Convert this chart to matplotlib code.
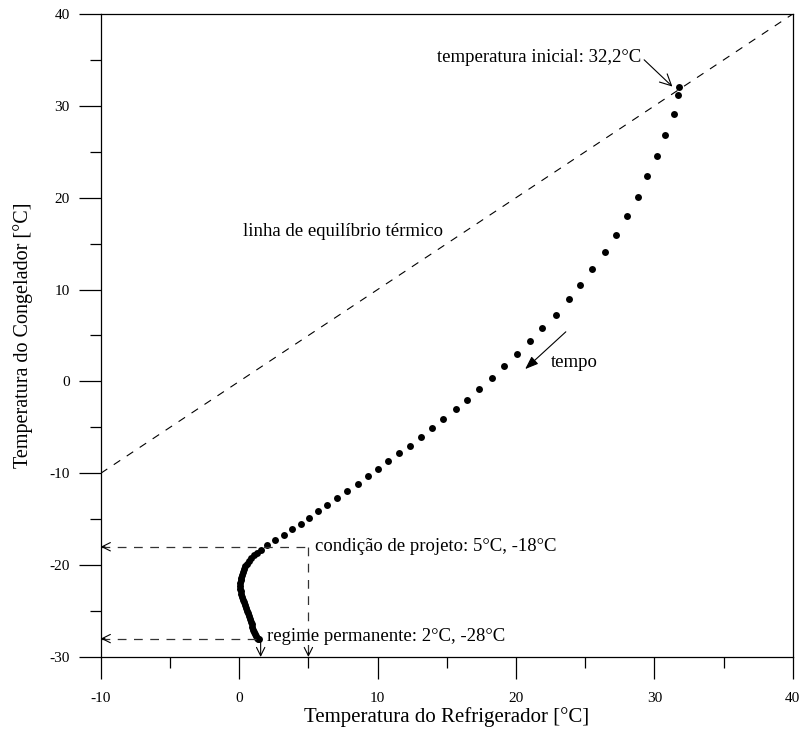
import matplotlib

matplotlib.use("Agg")
import matplotlib.pyplot as plt
import numpy as np

plt.rcParams["font.family"] = ["Liberation Serif", "DejaVu Serif"]
plt.rcParams["axes.unicode_minus"] = False

refrig_temp = [
    31.8, 31.7, 31.4, 30.8, 30.2, 29.5, 28.8, 28.0, 27.2, 26.4,
    25.5, 24.65, 23.8, 22.9, 21.9, 21.0, 20.06, 19.16, 18.28, 17.34,
    16.47, 15.63, 14.76, 13.95, 13.12, 12.34, 11.53, 10.76, 10.0, 9.28,
    8.56, 7.81, 7.09, 6.37, 5.72, 5.05, 4.44, 3.81, 3.22, 2.62,
    2.04, 1.54, 1.30, 1.08, 0.88, 0.70, 0.55, 0.42, 0.32, 0.24,
    0.18, 0.13, 0.10, 0.08, 0.08, 0.09, 0.12, 0.16, 0.21, 0.27,
    0.33, 0.40, 0.47, 0.54, 0.61, 0.68, 0.75, 0.82, 0.89, 0.96,
    1.03, 1.10, 1.17, 1.24, 1.30, 1.36, 1.42,
]
freezer_temp = [
    32.0, 31.15, 29.16, 26.83, 24.55, 22.31, 20.09, 17.99, 15.95, 14.07,
    12.19, 10.51, 8.92, 7.25, 5.83, 4.35, 2.97, 1.66, 0.36, -0.84,
    -1.98, -3.05, -4.07, -5.08, -6.09, -7.01, -7.83, -8.68, -9.54, -10.30,
    -11.12, -11.92, -12.72, -13.43, -14.15, -14.85, -15.47, -16.10, -16.72, -17.27,
    -17.85, -18.36, -18.65, -18.95, -19.25, -19.55, -19.85, -20.15, -20.45, -20.75,
    -21.05, -21.35, -21.65, -21.95, -22.25, -22.55, -22.85, -23.15, -23.45, -23.75,
    -24.05, -24.35, -24.65, -24.95, -25.25, -25.55, -25.85, -26.15, -26.45, -26.75,
    -27.05, -27.30, -27.55, -27.75, -27.90, -28.0, -28.05,
]

equilibrium_x = [-10, 40]
design_point = (5, -18)
steady_point = (1.5, -28)
axis_min = (-10, -30)

fig = plt.figure(figsize=(8.0, 7.29), dpi=100)
ax = fig.add_axes([0.126, 0.0988, 0.865, 0.8820])

ax.plot(equilibrium_x, equilibrium_x, color="black", linewidth=0.8, dashes=(7, 7))
ax.plot(refrig_temp, freezer_temp, "o", color="black", markersize=5.0, markeredgewidth=0)

dash_kw = dict(color="#333333", linewidth=0.9, dashes=(7, 6))
head_kw = dict(arrowstyle="->,head_length=0.6,head_width=0.3", color="black",
               linewidth=0.8, shrinkA=0, shrinkB=0)

# design condition guides
ax.plot([axis_min[0], design_point[0]], [design_point[1], design_point[1]], **dash_kw)
ax.plot([design_point[0], design_point[0]], [design_point[1], axis_min[1]], **dash_kw)
ax.annotate("", xy=(axis_min[0], design_point[1]), xytext=(axis_min[0] + 0.3, design_point[1]),
            arrowprops=head_kw)
ax.annotate("", xy=(design_point[0], axis_min[1]), xytext=(design_point[0], axis_min[1] + 0.5),
            arrowprops=head_kw)

# steady state guides
ax.plot([axis_min[0], steady_point[0]], [steady_point[1], steady_point[1]], **dash_kw)
ax.annotate("", xy=(axis_min[0], steady_point[1]), xytext=(axis_min[0] + 0.3, steady_point[1]),
            arrowprops=head_kw)
ax.annotate("", xy=(steady_point[0] + 0.05, axis_min[1]), xytext=(steady_point[0] + 0.05, steady_point[1] - 0.3),
            arrowprops=head_kw)

ax.annotate("temperatura inicial: 32,2°C", xy=(31.3, 32.1), xytext=(14.3, 35.3),
            fontsize=13.5, va="center", ha="left",
            arrowprops=dict(arrowstyle="->,head_length=0.6,head_width=0.3", color="black",
                            linewidth=0.8, shrinkA=0, shrinkB=0, relpos=(1.0, 0.5)))
ax.text(0.24, 16.3, "linha de equilíbrio térmico", fontsize=13.5, va="center", ha="left")
ax.annotate("", xy=(20.66, 1.34), xytext=(23.6, 5.4),
            arrowprops=dict(arrowstyle="-|>,head_length=0.8,head_width=0.3", color="black",
                            linewidth=0.8, shrinkA=0, shrinkB=0))
ax.text(22.5, 2.1, "tempo", fontsize=13.5, va="center", ha="left")
ax.text(5.5, -18.0, "condição de projeto: 5°C, -18°C", fontsize=13.5, va="center", ha="left")
ax.text(1.98, -27.75, "regime permanente: 2°C, -28°C", fontsize=13.5, va="center", ha="left")

ax.set_xlim(-10, 40)
ax.set_ylim(-30, 40)
ax.set_xticks(np.arange(-10, 41, 10))
ax.set_yticks(np.arange(-30, 41, 10))
ax.set_xticks(np.arange(-5, 40, 10), minor=True)
ax.set_yticks(np.arange(-25, 40, 10), minor=True)
ax.tick_params(which="major", direction="out", length=15.5, width=0.9, labelsize=11)
ax.tick_params(axis="x", which="major", pad=10)
ax.tick_params(axis="y", which="major", pad=7)
ax.tick_params(which="minor", direction="out", length=7.7, width=0.9)
for spine in ax.spines.values():
    spine.set_linewidth(0.9)

ax.set_xlabel("Temperatura do Refrigerador [°C]", fontsize=15, labelpad=1)
ax.set_ylabel("Temperatura do Congelador [°C]", fontsize=14.5, labelpad=12)

fig.savefig("out.png", dpi=100)
